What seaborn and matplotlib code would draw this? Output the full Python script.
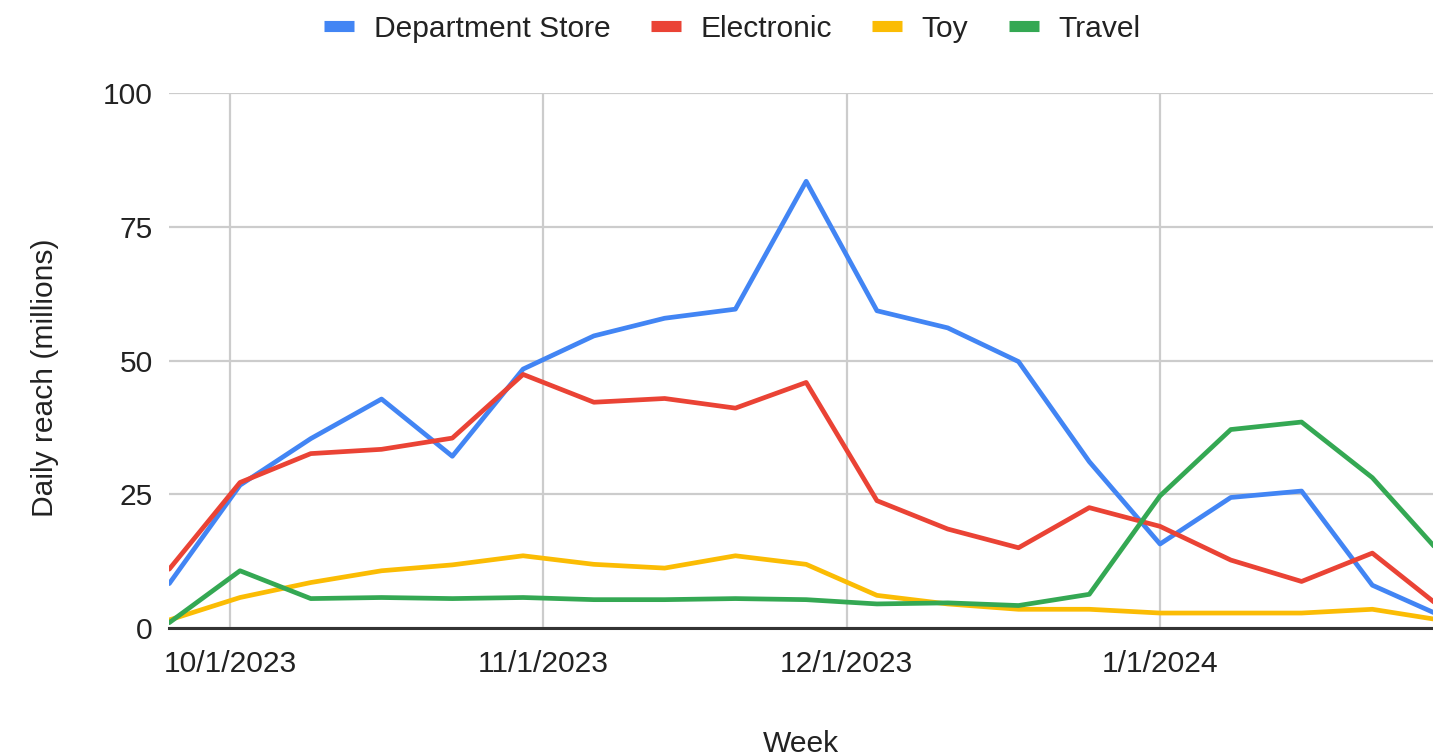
import matplotlib
matplotlib.use("Agg")
import matplotlib.pyplot as plt
from matplotlib.lines import Line2D
import numpy as np
import pandas as pd
import seaborn as sns

# Weekly reach by category (millions), weeks starting Monday
week_start = "2023-09-25"
n_weeks = 19
categories = ["Department Store", "Electronic", "Toy", "Travel"]
department_store = [8.3, 26.7, 35.4, 42.8, 32.1, 48.4, 54.6, 57.9, 59.6, 83.5,
                    59.3, 56.1, 49.8, 31.1, 15.7, 24.4, 25.6, 8.0, 2.1]
electronic = [11.0, 27.2, 32.6, 33.4, 35.5, 47.4, 42.2, 42.9, 41.1, 45.9,
              23.8, 18.5, 15.0, 22.5, 19.0, 12.7, 8.7, 14.0, 3.5]
toy = [1.5, 5.7, 8.5, 10.7, 11.8, 13.5, 11.9, 11.2, 13.5, 11.9,
       6.1, 4.5, 3.5, 3.5, 2.8, 2.8, 2.8, 3.5, 1.4]
travel = [1.0, 10.7, 5.5, 5.7, 5.5, 5.7, 5.3, 5.3, 5.5, 5.3,
          4.5, 4.7, 4.2, 6.3, 24.7, 37.1, 38.5, 28.1, 13.4]
colors = ["#4285F4", "#EA4335", "#FBBC04", "#34A853"]

x_tick_dates = ["2023-10-01", "2023-11-01", "2023-12-01", "2024-01-01"]
x_tick_labels = ["10/1/2023", "11/1/2023", "12/1/2023", "1/1/2024"]
y_ticks = [0, 25, 50, 75, 100]

weeks = pd.date_range(week_start, periods=n_weeks, freq="7D")
series = [department_store, electronic, toy, travel]
df = pd.concat(
    [pd.DataFrame({"Week": weeks, "Reach": vals, "Category": cat})
     for cat, vals in zip(categories, series)],
    ignore_index=True,
)

sns.set_theme(style="white")
plt.rcParams["font.family"] = ["Liberation Sans", "DejaVu Sans"]
text_color = "#222222"
fs = 21.6

fig = plt.figure(figsize=(14.33, 7.55), dpi=100)
ax = fig.add_axes([0.1181, 0.1682, 1 - 0.1181, 0.7086])

sns.lineplot(data=df, x="Week", y="Reach", hue="Category", hue_order=categories,
             palette=colors, linewidth=3.4, legend=False, ax=ax, zorder=3)

ax.set_xlim(pd.Timestamp("2023-09-25"), pd.Timestamp("2024-01-28"))
ax.set_ylim(0, 100)
ax.set_xticks([pd.Timestamp(d) for d in x_tick_dates])
ax.set_xticklabels(x_tick_labels)
ax.set_yticks(y_ticks)
ax.set_yticklabels([str(v) for v in y_ticks])
ax.grid(True, color="#cccccc", linewidth=1.6, zorder=0)
ax.set_axisbelow(True)

for side in ["top", "right", "left"]:
    ax.spines[side].set_visible(False)
ax.spines["bottom"].set_color("#333333")
ax.spines["bottom"].set_linewidth(2.2)
ax.spines["bottom"].set_zorder(4)

ax.tick_params(axis="x", length=0, pad=16, labelsize=fs, labelcolor=text_color)
ax.tick_params(axis="y", length=0, pad=12, labelsize=fs, labelcolor=text_color)

ax.set_xlabel("Week", fontsize=fs, color=text_color, labelpad=37)
ax.set_ylabel("Daily reach (millions)", fontsize=fs, color=text_color)
ax.yaxis.set_label_coords(-0.087, 0.468)

handles = [Line2D([0], [0], color=c, linewidth=8, solid_capstyle="butt") for c in colors]
fig.legend(handles, categories, loc="upper center", bbox_to_anchor=(0.511, 1.016),
           ncol=4, frameon=False, fontsize=fs, handlelength=1.0,
           handletextpad=0.65, columnspacing=1.35, labelcolor=text_color)

fig.savefig("out.png", dpi=100, facecolor="white")
